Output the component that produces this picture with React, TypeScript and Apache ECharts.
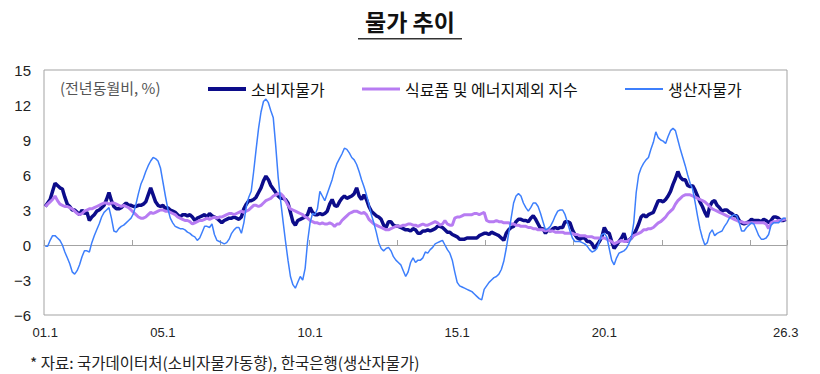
import React, { useEffect, useRef } from 'react';
import * as echarts from 'echarts';

const startYear = 2001;
const tickLabels = ['01.1', '05.1', '10.1', '15.1', '20.1', '26.3'];
const seriesNames = ['소비자물가', '식료품 및 에너지제외 지수', '생산자물가'];

// 소비자물가 (전년동월비, %) 2001.1 ~ 2026.3
const cpi = [
  3.3, 3.6, 3.9, 4.6, 5.3, 5.1, 4.9, 4.8, 4.1, 3.5, 3.3, 3.0,
  3.0, 2.8, 2.6, 3.0, 2.7, 2.8, 2.1, 2.4, 2.6, 2.9, 3.0, 3.2,
  3.4, 3.9, 4.5, 3.8, 3.3, 3.1, 3.1, 3.2, 3.4, 3.6, 3.4, 3.4,
  3.3, 3.3, 3.4, 3.4, 3.5, 3.7, 4.3, 4.9, 4.3, 3.7, 3.4, 3.3,
  3.4, 3.1, 3.2, 3.0, 2.9, 2.8, 2.6, 2.4, 2.6, 2.6, 2.5, 2.6,
  2.4, 2.1, 2.3, 2.4, 2.5, 2.6, 2.4, 2.7, 2.5, 2.4, 2.3, 2.1,
  1.9, 2.1, 2.2, 2.3, 2.3, 2.4, 2.3, 2.2, 2.4, 3.1, 3.5, 3.8,
  3.8, 3.9, 4.1, 4.5, 4.9, 5.5, 5.9, 5.6, 5.1, 4.8, 4.5, 4.2,
  4.0, 4.0, 3.9, 3.6, 2.8, 2.0, 1.7, 2.1, 2.2, 2.3, 2.4, 2.6,
  3.2, 2.8, 2.6, 2.6, 2.7, 2.6, 2.7, 2.9, 3.5, 3.9, 3.4, 3.3,
  3.7, 4.0, 4.2, 4.0, 4.1, 4.2, 4.4, 4.9, 4.2, 3.9, 4.3, 3.9,
  3.3, 2.9, 2.7, 2.5, 2.4, 2.2, 1.7, 1.5, 2.0, 2.0, 1.7, 1.6,
  1.6, 1.5, 1.4, 1.3, 1.3, 1.2, 1.4, 1.3, 1.0, 1.0, 1.2, 1.2,
  1.3, 1.2, 1.3, 1.4, 1.6, 1.6, 1.5, 1.3, 1.1, 1.1, 0.9, 0.8,
  0.7, 0.5, 0.5, 0.5, 0.6, 0.6, 0.6, 0.6, 0.6, 0.8, 0.9, 1.0,
  1.0, 0.9, 1.1, 1.0, 0.9, 0.8, 0.6, 0.4, 1.0, 1.3, 1.5, 1.6,
  2.0, 2.2, 2.2, 2.1, 2.1, 2.0, 2.3, 2.5, 2.2, 1.8, 1.4, 1.4,
  1.0, 1.3, 1.2, 1.4, 1.5, 1.4, 1.5, 1.5, 2.0, 2.0, 1.9, 1.3,
  0.9, 0.6, 0.5, 0.6, 0.6, 0.3, 0.3, 0.1, -0.3, 0.0, 0.3, 0.7,
  1.5, 1.1, 1.0, 0.3, -0.3, 0.0, 0.3, 0.6, 1.0, 0.3, 0.4, 0.6,
  0.9, 1.3, 1.8, 2.4, 2.6, 2.4, 2.6, 2.7, 2.8, 3.3, 3.8, 3.8,
  3.7, 3.9, 4.2, 4.6, 5.2, 5.7, 6.3, 5.8, 5.6, 5.6, 5.1, 5.0,
  5.1, 4.7, 4.2, 3.7, 3.3, 2.8, 2.4, 3.3, 3.7, 3.8, 3.4, 3.2,
  2.9, 3.0, 3.0, 2.8, 2.7, 2.5, 2.5, 2.1, 1.9, 1.8, 1.9, 2.0,
  2.2, 2.1, 2.1, 2.1, 2.0, 2.2, 2.1, 1.9, 2.1, 2.4, 2.4, 2.3,
  2.1, 2.1, 2.2,
];

// 식료품 및 에너지제외 지수 (전년동월비, %)
const core = [
  3.3, 3.5, 3.7, 3.9, 4.2, 3.8, 3.5, 3.4, 3.3, 3.3, 3.2, 3.1,
  2.9, 2.7, 2.6, 2.7, 2.9, 3.0, 3.1, 3.1, 3.2, 3.3, 3.4, 3.5,
  3.6, 3.6, 3.5, 3.6, 3.6, 3.5, 3.4, 3.3, 3.4, 3.3, 3.2, 3.0,
  2.8, 2.6, 2.4, 2.3, 2.3, 2.4, 2.6, 2.8, 2.7, 2.8, 2.9, 3.0,
  3.0, 2.9, 2.9, 2.8, 2.7, 2.6, 2.4, 2.3, 2.2, 2.1, 2.1, 2.0,
  1.8, 1.9, 2.0, 2.1, 2.1, 2.2, 2.3, 2.2, 2.3, 2.4, 2.3, 2.4,
  2.4, 2.5, 2.6, 2.7, 2.7, 2.6, 2.7, 2.8, 2.9, 2.8, 2.9, 3.0,
  3.2, 3.4, 3.4, 3.3, 3.4, 3.6, 3.8, 3.9, 4.0, 4.2, 4.3, 4.4,
  4.4, 4.2, 3.8, 3.4, 3.1, 3.0, 2.9, 2.8, 2.7, 2.6, 2.4, 2.3,
  2.1, 2.0, 1.9, 1.9, 1.8, 1.9, 1.8, 1.8, 1.9, 1.8, 1.6, 1.8,
  1.8, 2.1, 2.3, 2.5, 2.7, 2.8, 2.9, 2.9, 2.8, 2.7, 2.8, 2.6,
  2.2, 2.0, 1.8, 1.7, 1.6, 1.5, 1.4, 1.3, 1.3, 1.4, 1.5, 1.6,
  1.6, 1.6, 1.7, 1.7, 1.8, 1.8, 1.7, 1.7, 1.6, 1.7, 1.8, 1.7,
  1.7, 1.8, 1.9, 2.0, 1.9, 1.7, 1.8, 2.1, 1.8, 1.7, 1.7, 2.3,
  2.4, 2.4, 2.5, 2.6, 2.6, 2.6, 2.6, 2.7, 2.7, 2.6, 2.7, 2.8,
  2.1, 2.0, 2.0, 2.0, 2.1, 2.0, 2.0, 1.9, 1.9, 1.9, 1.8, 1.8,
  1.7, 1.7, 1.6, 1.6, 1.6, 1.5, 1.5, 1.4, 1.4, 1.3, 1.3, 1.3,
  1.2, 1.3, 1.2, 1.2, 1.1, 1.1, 1.1, 1.1, 1.0, 1.0, 1.0, 1.0,
  0.9, 0.9, 0.8, 0.8, 0.8, 0.7, 0.7, 0.7, 0.6, 0.6, 0.6, 0.6,
  0.6, 0.5, 0.4, 0.3, 0.1, 0.2, 0.3, 0.4, 0.3, 0.3, 0.4, 0.6,
  0.8, 0.9, 1.0, 1.1, 1.3, 1.3, 1.4, 1.4, 1.5, 1.7, 1.9, 2.0,
  2.2, 2.4, 2.7, 2.9, 3.1, 3.5, 3.8, 4.0, 4.2, 4.3, 4.3, 4.3,
  4.2, 4.1, 4.0, 3.9, 3.8, 3.7, 3.5, 3.3, 3.1, 3.0, 2.9, 2.8,
  2.7, 2.6, 2.5, 2.4, 2.3, 2.2, 2.1, 2.0, 2.0, 1.9, 1.9, 1.9,
  1.9, 1.9, 1.9, 1.9, 1.9, 1.9, 1.8, 1.4, 1.9, 2.0, 2.0, 2.1,
  2.1, 2.2, 2.2,
];

// 생산자물가 (전년동월비, %)
const ppi = [
  -0.1, -0.1, 0.4, 0.8, 0.8, 0.6, 0.4, 0.0, -0.6, -1.1, -1.6, -2.3,
  -2.5, -2.2, -1.7, -1.0, -0.5, -0.5, -0.6, 0.2, 0.8, 1.3, 1.8, 2.4,
  2.8, 3.0, 3.2, 2.3, 1.2, 1.1, 1.4, 1.6, 1.7, 1.9, 2.1, 2.3,
  2.7, 3.5, 4.4, 5.2, 5.7, 6.3, 6.8, 7.2, 7.5, 7.4, 7.2, 6.6,
  5.4, 4.2, 3.1, 2.3, 1.9, 1.6, 1.5, 1.4, 1.4, 1.3, 1.1, 1.0,
  0.8, 0.7, 0.4, 0.6, 1.1, 1.6, 1.6, 1.5, 1.8, 0.9, 0.4, 0.3,
  0.2, 0.1, 0.2, 0.5, 1.0, 1.3, 1.5, 1.5, 1.0, 1.9, 3.3, 4.1,
  4.6, 6.3, 8.2, 10.0, 11.4, 12.3, 12.5, 12.2, 11.5, 10.9, 8.5, 5.8,
  3.8, 2.0, 0.3, -1.3, -2.7, -3.4, -3.7, -3.2, -2.7, -3.0, -2.0, 0.3,
  1.9, 2.7, 2.6, 3.1, 4.6, 4.2, 3.8, 4.4, 5.0, 5.6, 6.4, 7.0,
  7.4, 7.8, 8.3, 8.2, 7.9, 7.5, 7.3, 6.9, 6.3, 5.6, 5.0, 4.3,
  3.5, 2.6, 1.9, 1.1, 0.2, -0.3, -0.5, -0.3, -0.2, -0.5, -1.0, -1.3,
  -1.5, -1.7, -2.2, -2.7, -2.3, -1.5, -1.1, -1.5, -1.3, -1.3, -1.1, -0.6,
  -0.7, -0.4, -0.2, 0.1, 0.2, 0.3, 0.4, 0.0, -0.4, -0.7, -1.3, -2.3,
  -3.2, -3.5, -3.6, -3.7, -3.8, -3.9, -4.0, -4.2, -4.4, -4.6, -4.7, -3.8,
  -3.5, -3.2, -3.0, -2.8, -2.7, -2.5, -2.1, -1.4, -0.3, 1.0, 2.3, 3.6,
  4.2, 4.4, 4.2, 3.6, 3.2, 2.9, 3.2, 3.6, 3.6, 3.3, 2.7, 2.0,
  1.3, 1.4, 1.6, 2.0, 2.5, 2.9, 3.0, 3.0, 2.6, 1.9, 1.2, 0.6,
  0.3, 0.3, 0.3, 0.2, 0.1, -0.1, -0.4, -0.6, -0.5, -0.3, 0.3, 0.9,
  1.0, 0.7, -0.3, -1.3, -1.7, -1.1, -0.7, -0.6, -0.5, -0.3, 0.1, 0.6,
  1.9, 4.5, 6.0, 6.6, 7.0, 7.3, 7.5, 8.2, 8.8, 9.7, 9.2, 9.0,
  8.9, 8.7, 9.3, 9.8, 10.0, 9.8, 9.0, 8.2, 7.5, 6.8, 6.0, 5.3,
  4.8, 3.7, 2.5, 1.4, 0.6, 0.0, 0.2, 1.0, 1.3, 0.8, 1.0, 1.1,
  1.2, 1.6, 1.9, 2.3, 2.5, 2.6, 2.5, 1.9, 1.2, 1.2, 1.5, 1.7,
  1.9, 1.8, 1.3, 0.8, 0.5, 0.5, 0.6, 0.9, 1.7, 1.9, 1.9, 1.9,
  2.1, 2.3, 2.3,
];

const categories = cpi.map((_, i) => {
  const y = (startYear + Math.floor(i / 12)) % 100;
  return `${String(y).padStart(2, '0')}.${(i % 12) + 1}`;
});

const colors = ['#0c0c8a', '#b77cf2', '#3d7ffc'];
const widths = [3.5, 3, 1.5];
const legendIconHeights = [4, 3, 2];
const KR = '"Noto Sans CJK KR", "Noto Sans", sans-serif';
const LAT = '"Liberation Sans", Arial, sans-serif';

export default function App() {
  const ref = useRef<HTMLDivElement>(null);
  useEffect(() => {
    const chart = echarts.init(ref.current as HTMLDivElement, null, { renderer: 'svg' });
    const legendLefts = [203, 357, 620];
    chart.setOption({
      animation: false,
      backgroundColor: '#ffffff',
      grid: {
        left: 44, top: 70, width: 743, height: 245,
        show: true, borderColor: '#a3a3a3', borderWidth: 1, backgroundColor: 'transparent',
      },
      xAxis: [
        {
          type: 'category', data: categories, boundaryGap: true, position: 'bottom',
          axisLine: { show: false, onZero: false },
          axisTick: { show: false },
          splitLine: { show: false },
          axisLabel: {
            interval: (_idx: number, val: string) => tickLabels.includes(val),
            margin: 11, fontSize: 13, color: '#222', fontFamily: LAT,
          },
        },
        {
          type: 'category', data: categories, boundaryGap: true, position: 'bottom',
          axisLine: { show: true, onZero: true, lineStyle: { color: '#a3a3a3', width: 1 } },
          axisTick: { show: true, inside: true, interval: 35, length: 5, lineStyle: { color: '#a3a3a3' } },
          axisLabel: { show: false },
          splitLine: { show: false },
        },
      ],
      yAxis: {
        type: 'value', min: -6, max: 15, interval: 3,
        axisLine: { show: false }, axisTick: { show: false }, splitLine: { show: false },
        axisLabel: {
          margin: 13, fontSize: 15, color: '#222', fontFamily: LAT,
          formatter: (v: number) => (v < 0 ? '\u2212' + Math.abs(v) : String(v)),
        },
      },
      legend: seriesNames.map((n, k) => ({
        data: [{ name: n, icon: 'rect' }], left: legendLefts[k], top: 76,
        itemWidth: 38, itemHeight: legendIconHeights[k],
        selectedMode: false,
        textStyle: { fontSize: 16, color: '#111', fontFamily: KR },
      })),
      graphic: [
        {
          type: 'text', left: 'center', top: 9,
          style: { text: '물가 추이', font: `bold 23px ${KR}`, fill: '#111' },
        },
        {
          type: 'rect', left: 'center', top: 38,
          shape: { width: 104, height: 1.6 }, style: { fill: '#333' },
        },
        {
          type: 'text', left: 60, top: 80,
          style: { text: '(전년동월비, %)', font: `15px ${KR}`, fill: '#555' },
        },
        {
          type: 'text', left: 30, top: 354,
          style: { text: '* 자료: 국가데이터처(소비자물가동향), 한국은행(생산자물가)', font: `15.5px ${KR}`, fill: '#222' },
        },
      ],
      series: [cpi, core, ppi].map((d, k) => ({
        name: seriesNames[k], type: 'line', data: d, xAxisIndex: 0, yAxisIndex: 0,
        symbol: 'none', showSymbol: false, smooth: false,
        lineStyle: { color: colors[k], width: widths[k] },
        itemStyle: { color: colors[k] },
        z: 3 + k,
      })),
    });
    return () => chart.dispose();
  }, []);
  return <div ref={ref} style={{ position: 'fixed', left: 0, top: 0, width: 820, height: 374 }} />;
}
